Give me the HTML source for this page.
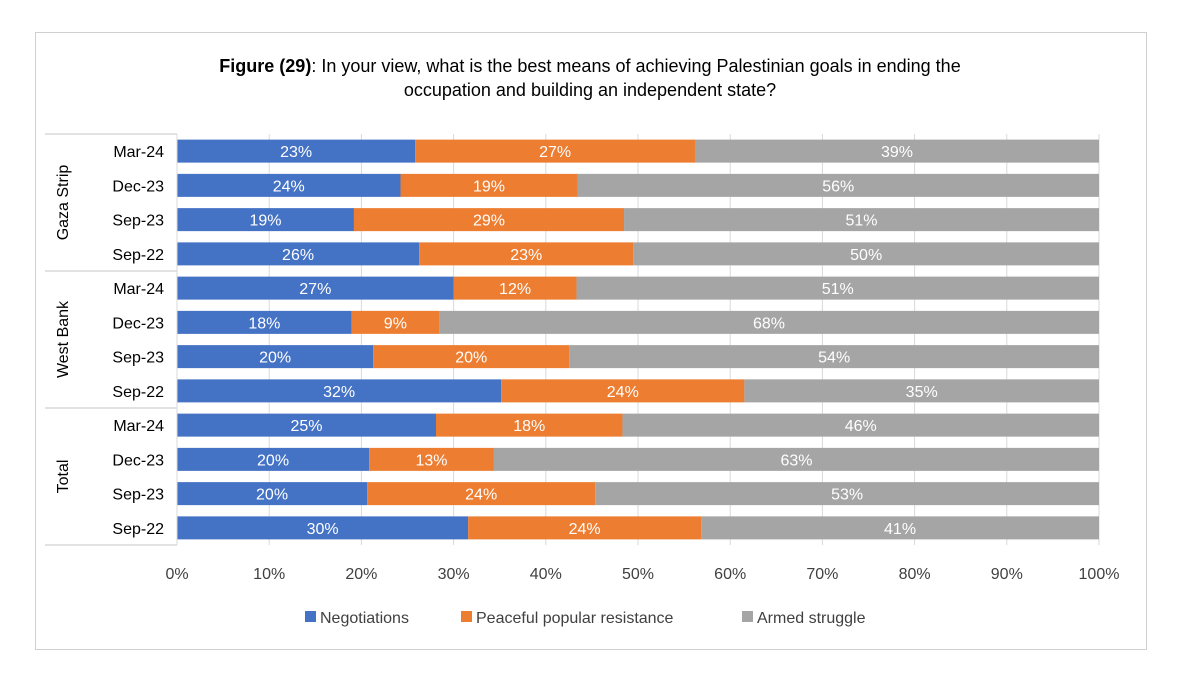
<!DOCTYPE html>
<html><head><meta charset="utf-8"><style>
body{margin:0;background:#fff;font-family:"Liberation Sans",sans-serif;}
svg text{font-family:"Liberation Sans",sans-serif;}
</style></head><body>
<svg id="c" width="1200" height="670" xmlns="http://www.w3.org/2000/svg">
<rect x="35.5" y="32.5" width="1111" height="617" fill="#fff" stroke="#d0d0d0"/>
<text x="590" y="72" text-anchor="middle" font-size="18" fill="#000"><tspan font-weight="bold">Figure (29)</tspan>: In your view, what is the best means of achieving Palestinian goals in ending the</text>
<text x="590" y="96" text-anchor="middle" font-size="18" fill="#000">occupation and building an independent state?</text>
<g id="grid"></g><g id="bars"></g><g id="axes"></g>
<g id="legend"></g>
</svg>
<script>
const groups=["Gaza Strip","West Bank","Total"];
const periods=["Mar-24","Dec-23","Sep-23","Sep-22"];
const negotiations=[23,24,19,26,27,18,20,32,25,20,20,30];
const peaceful=[27,19,29,23,12,9,20,24,18,13,24,24];
const armed=[39,56,51,50,51,68,54,35,46,63,53,41];
const ticks=["0%","10%","20%","30%","40%","50%","60%","70%","80%","90%","100%"];
const seriesNames=["Negotiations","Peaceful popular resistance","Armed struggle"];
const colors=["#4472C4","#ED7D31","#A5A5A5"];
const NS="http://www.w3.org/2000/svg";
const x0=177,x1=1099,yTop=134,rowH=34.25,barH=23;
const xs=f=>x0+f*(x1-x0);
const yc=i=>yTop+rowH*(i+0.5);
function el(t,a,p){const e=document.createElementNS(NS,t);for(const k in a)e.setAttribute(k,a[k]);p.appendChild(e);return e;}
const grid=document.getElementById('grid'),bars=document.getElementById('bars'),axes=document.getElementById('axes'),leg=document.getElementById('legend');
ticks.forEach((t,i)=>{const x=xs(i/10);
 const l=el('line',{x1:x,x2:x,y1:yTop,y2:yTop+rowH*12,stroke:'#d9d9d9'},grid);
 
 
 const tx=el('text',{x:x,y:579,'text-anchor':'middle','font-size':16,fill:'#404040'},axes);tx.textContent=t;
 
 
});
const series=[negotiations,peaceful,armed];
for(let i=0;i<12;i++){
 const tot=negotiations[i]+peaceful[i]+armed[i];let acc=0;
 series.forEach((s,k)=>{const a=xs(acc/tot),b=xs((acc+s[i])/tot);acc+=s[i];
  const r=el('rect',{x:a,y:yc(i)-barH/2,width:b-a,height:barH,fill:colors[k]},bars);
  
  
  const t=el('text',{x:(a+b)/2,y:yc(i)+6,'text-anchor':'middle','font-size':16,fill:'#fff'},bars);t.textContent=s[i]+'%';
  
  
 });
 const c=el('text',{x:164,y:yc(i)+6,'text-anchor':'end','font-size':16,fill:'#000'},axes);c.textContent=periods[i%4];
 
 
}
for(let g=0;g<=3;g++){const y=yTop+rowH*4*g;
 const l=el('line',{x1:45,x2:177,y1:y,y2:y,stroke:'#d9d9d9','stroke-width':1.5},axes);
 
 
}
const va=el('line',{x1:177,x2:177,y1:yTop,y2:yTop+rowH*12,stroke:'#d9d9d9'},axes);


groups.forEach((g,j)=>{const y=yTop+rowH*(4*j+2);
 const t=el('text',{x:0,y:0,'text-anchor':'middle','font-size':16,fill:'#000',transform:`translate(68,${y}) rotate(-90)`},axes);t.textContent=g;
 
 
});
const lx=[305,461,742];
seriesNames.forEach((n,k)=>{
 const r=el('rect',{x:lx[k],y:611,width:11,height:11,fill:colors[k]},leg);
 
 
 const t=el('text',{x:lx[k]+15,y:623,'font-size':16,fill:'#404040'},leg);t.textContent=n;
 
 
});
</script>
</body></html>
